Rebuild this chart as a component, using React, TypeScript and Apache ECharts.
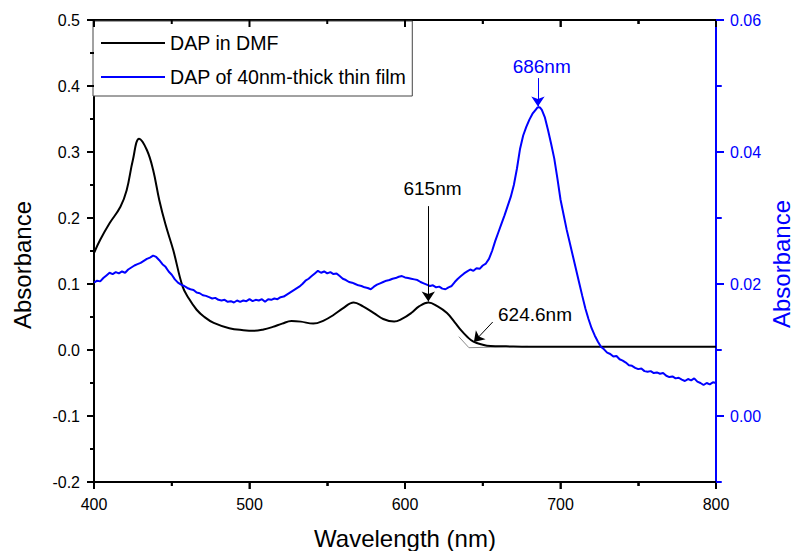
import React, { useEffect, useRef } from "react";
import * as echarts from "echarts";

// ---- Data ----
const dmfWavelength = [400,404,410,417,421,425,429,434,438,442,446,451,457,461,466,471,477,487,496,503,509,515,521,527,533,541,548,554,560,567,573,580,586,593,598,604,609,615,621,627,632,636,640,644,650,655,665,680,800];
const dmfAbsorbance = [0.147,0.167,0.192,0.217,0.242,0.288,0.320,0.303,0.273,0.227,0.190,0.151,0.096,0.078,0.061,0.050,0.041,0.033,0.030,0.029,0.031,0.035,0.040,0.044,0.043,0.040,0.045,0.053,0.063,0.072,0.066,0.056,0.047,0.043,0.047,0.056,0.066,0.072,0.066,0.056,0.042,0.030,0.020,0.0126,0.008,0.006,0.0055,0.005,0.005];

const filmWavelength = [
  400,402,404,406,408,410,412,414,416,418,
  420,422,424,426,428,430,432,434,436,438,
  440,442,444,446,448,450,452,454,456,458,
  460,462,464,466,468,470,472,474,476,478,
  480,482,484,486,488,490,492,494,496,498,
  500,502,504,506,508,510,512,514,516,518,
  520,522,524,526,528,530,532,534,536,538,
  540,542,544,546,548,550,552,554,556,558,
  560,562,564,566,568,570,572,574,576,578,
  580,582,584,586,588,590,592,594,596,598,
  600,602,604,606,608,610,612,614,616,618,
  620,622,624,626,628,630,632,634,636,638,
  640,642,644,646,648,650,652,654,656,658,
  660,662,664,666,668,670,672,674,676,678,
  680,682,684,685,686,687,688,690,692,694,
  696,698,700,702,704,706,708,710,712,714,
  716,718,720,722,724,726,728,730,732,734,
  736,738,740,742,744,746,748,750,752,754,
  756,758,760,762,764,766,768,770,772,774,
  776,778,780,782,784,786,788,790,792,794,
  796,798,800
];
const filmAbsorbance = [
  0.0202,0.0205,0.0204,0.0209,0.0213,0.0217,0.0215,0.0218,0.0216,0.0219,
  0.0217,0.0222,0.0225,0.0228,0.0230,0.0232,0.0235,0.0238,0.0240,0.0243,
  0.0241,0.0236,0.0230,0.0226,0.0219,0.0214,0.0207,0.0202,0.0199,0.0197,
  0.0194,0.0192,0.0191,0.0187,0.0186,0.0183,0.0182,0.0180,0.0178,0.0179,
  0.0176,0.0175,0.0176,0.0173,0.0174,0.0172,0.0175,0.0173,0.0175,0.0174,
  0.0177,0.0174,0.0176,0.0175,0.0177,0.0173,0.0177,0.0176,0.0178,0.0177,
  0.0180,0.0181,0.0184,0.0187,0.0190,0.0193,0.0196,0.0200,0.0205,0.0208,
  0.0212,0.0216,0.0220,0.0217,0.0219,0.0216,0.0218,0.0215,0.0216,0.0212,
  0.0208,0.0206,0.0203,0.0202,0.0200,0.0198,0.0197,0.0195,0.0194,0.0192,
  0.0196,0.0199,0.0201,0.0203,0.0205,0.0206,0.0208,0.0209,0.0211,0.0212,
  0.0210,0.0209,0.0208,0.0207,0.0206,0.0203,0.0201,0.0199,0.0197,0.0198,
  0.0195,0.0196,0.0193,0.0192,0.0195,0.0197,0.0203,0.0208,0.0212,0.0216,
  0.0219,0.0222,0.0220,0.0224,0.0223,0.0228,0.0231,0.0238,0.0250,0.0265,
  0.0278,0.0291,0.0304,0.0318,0.0332,0.0350,0.0375,0.0405,0.0425,0.0438,
  0.0449,0.0458,0.0464,0.0467,0.0468,0.0467,0.0464,0.0452,0.0433,0.0412,
  0.0390,0.0360,0.0328,0.0305,0.0282,0.0262,0.0242,0.0222,0.0202,0.0182,
  0.0163,0.0147,0.0133,0.0122,0.0113,0.0105,0.0101,0.0096,0.0094,0.0090,
  0.0091,0.0086,0.0084,0.0081,0.0077,0.0076,0.0073,0.0071,0.0072,0.0068,
  0.0067,0.0068,0.0065,0.0066,0.0064,0.0065,0.0061,0.0059,0.0060,0.0057,
  0.0058,0.0055,0.0053,0.0056,0.0054,0.0057,0.0052,0.0050,0.0047,0.0050,
  0.0048,0.0051,0.0050
];

// gray tangent / baseline construction near the absorption edge
const tangentWavelength = [634.6, 641.1, 679];
const tangentAbsorbance = [0.0202, 0.0035, 0.0055];

const seriesNames = ["DAP in DMF", "DAP of 40nm-thick thin film"];

// axis ranges and tick values
const X_MIN = 400, X_MAX = 800;
const YL_MIN = -0.2, YL_MAX = 0.5;
const YR_MIN = -0.01, YR_MAX = 0.06;
const xMajorTicks = [400, 500, 600, 700, 800];
const xMinorTicks = [450, 550, 650, 750];
const yLeftMajorTicks = [-0.2, -0.1, 0, 0.1, 0.2, 0.3, 0.4, 0.5];
const yLeftMinorTicks = [-0.15, -0.05, 0.05, 0.15, 0.25, 0.35, 0.45];
const yRightMajorTicks = [0, 0.02, 0.04, 0.06];
const yRightMinorTicks = [-0.01, 0.01, 0.03, 0.05];

const BLUE = "#0000ff";
const FONT = "'Liberation Sans', Arial, Helvetica, sans-serif";
const TW = 2;

const zip = (xs: number[], ys: number[]) => xs.map((x, i) => [x, ys[i]]);

// tick marks as small rect markers anchored at axis values, shifted by half their length
const vTicks = (values: number[], y: number, len: number, color: string) =>
  values.map((v) => ({
    name: "",
    coord: [v, y],
    symbol: "rect",
    symbolSize: [TW, len],
    symbolOffset: [0, len / 2],
    itemStyle: { color, opacity: 1 },
    label: { show: false },
  }));
const hTicks = (values: number[], x: number, len: number, dir: number, color: string) =>
  values.map((v) => ({
    name: "",
    coord: [x, v],
    symbol: "rect",
    symbolSize: [len, TW],
    symbolOffset: [(dir * len) / 2, 0],
    itemStyle: { color, opacity: 1 },
    label: { show: false },
  }));

export default function App() {
  const ref = useRef<HTMLDivElement>(null);
  useEffect(() => {
    const chart = echarts.init(ref.current!, null, { renderer: "svg" });

    const blackTickStyle = { color: "#000", width: 1.5 };
    const option: any = {
      animation: false,
      backgroundColor: "#fff",
      textStyle: { fontFamily: FONT },
      grid: { left: 94, right: 79, top: 20, bottom: 69, containLabel: false, outerBoundsMode: "none" },
      legend: {
        left: 93,
        top: 21,
        orient: "vertical",
        padding: [12, 6, 9, 8],
        itemGap: 14,
        itemWidth: 64,
        itemHeight: 2,
        icon: "rect",
        borderColor: "#444",
        borderWidth: 1,
        backgroundColor: "#fff",
        textStyle: { fontSize: 19.6, color: "#000", fontFamily: FONT },
        data: seriesNames,
      },
      xAxis: [
        {
          type: "value",
          position: "bottom",
          min: X_MIN,
          max: X_MAX,
          interval: 100,
          axisLine: { show: true, onZero: false, lineStyle: { color: "#000", width: 2 } },
          axisTick: { show: true, length: 7, lineStyle: { ...blackTickStyle } },
          minorTick: { show: true, splitNumber: 2, length: 4, lineStyle: { ...blackTickStyle } },
          axisLabel: { fontSize: 16, color: "#000", margin: 14, fontFamily: FONT },
          splitLine: { show: false },
          minorSplitLine: { show: false },
          name: "Wavelength (nm)",
          nameLocation: "middle",
          nameGap: 44,
          nameMoveOverlap: false,
          nameTextStyle: { fontSize: 24, color: "#000", fontFamily: FONT },
        },
        {
          type: "value",
          position: "top",
          min: X_MIN,
          max: X_MAX,
          interval: 100,
          axisLine: { show: true, onZero: false, lineStyle: { color: "#000", width: 2 } },
          axisTick: { show: true, inside: true, length: 7, lineStyle: { ...blackTickStyle } },
          minorTick: { show: true, splitNumber: 2, length: 4, lineStyle: { ...blackTickStyle } },
          axisLabel: { show: false },
          splitLine: { show: false },
          minorSplitLine: { show: false },
        },
      ],
      yAxis: [
        {
          type: "value",
          position: "left",
          min: YL_MIN,
          max: YL_MAX,
          interval: 0.1,
          axisLine: { show: true, onZero: false, lineStyle: { color: "#000", width: 2 } },
          axisTick: { show: true, length: 7, lineStyle: { ...blackTickStyle } },
          minorTick: { show: true, splitNumber: 2, length: 4, lineStyle: { ...blackTickStyle } },
          axisLabel: {
            fontSize: 16,
            color: "#000",
            margin: 14,
            fontFamily: FONT,
            formatter: (v: number) => v.toFixed(1),
          },
          splitLine: { show: false },
          minorSplitLine: { show: false },
          name: "Absorbance",
          nameLocation: "middle",
          nameRotate: 90,
          nameGap: 60,
          nameMoveOverlap: false,
          nameTextStyle: { fontSize: 24, color: "#000", fontFamily: FONT, padding: [0, 28, 0, 0] },
        },
        {
          type: "value",
          position: "right",
          min: YR_MIN,
          max: YR_MAX,
          interval: 0.01,
          axisLine: { show: true, onZero: false, lineStyle: { color: BLUE, width: 2 } },
          axisTick: { show: true, length: 6, lineStyle: { color: BLUE, width: 1.5 } },
          axisLabel: {
            fontSize: 16,
            color: BLUE,
            margin: 14,
            fontFamily: FONT,
            formatter: (v: number) => (Math.round(v * 100) % 2 === 0 ? v.toFixed(2) : ""),
          },
          splitLine: { show: false },
          name: "Absorbance",
          nameLocation: "middle",
          nameRotate: 90,
          nameGap: 53,
          nameMoveOverlap: false,
          nameTextStyle: { fontSize: 24, color: BLUE, fontFamily: FONT, padding: [0, 26, 0, 0] },
        },
      ],
      series: [
        {
          name: "tangent",
          type: "line",
          xAxisIndex: 0,
          yAxisIndex: 0,
          data: zip(tangentWavelength, tangentAbsorbance),
          symbol: "none",
          lineStyle: { color: "#8a8a8a", width: 1 },
          silent: true,
          z: 1,
        },
        {
          name: seriesNames[0],
          type: "line",
          xAxisIndex: 0,
          yAxisIndex: 0,
          data: zip(dmfWavelength, dmfAbsorbance),
          symbol: "none",
          smooth: 0.4,
          color: "#000",
          lineStyle: { color: "#000", width: 2 },
          z: 2,
          markLine: {
            silent: true,
            symbol: ["none", "arrow"],
            symbolSize: 10,
            label: { show: false },
            lineStyle: { color: "#000", width: 1, type: "solid" },
            data: [
              [{ coord: [615, 0.218] }, { coord: [615, 0.0735] }],
              [{ coord: [656.4, 0.0424] }, { coord: [644.3, 0.0121] }],
            ],
          },
          markPoint: {
            silent: true,
            symbol: "circle",
            symbolSize: 1,
            itemStyle: { color: "rgba(0,0,0,0)" },
            label: { show: true, position: "inside", color: "#000", fontSize: 19, fontFamily: FONT, formatter: "{b}" },
            data: [
              { name: "615nm", coord: [617.7, 0.244] },
              { name: "624.6nm", coord: [683.6, 0.0545] },
              // tick marks through the same marker mechanism
              ...vTicks(xMajorTicks, YL_MIN, 7, "#000"),
              ...vTicks(xMinorTicks, YL_MIN, 4, "#000"),
              ...vTicks(xMajorTicks, YL_MAX, 7, "#000"),
              ...vTicks(xMinorTicks, YL_MAX, 4, "#000"),
              ...hTicks(yLeftMajorTicks, X_MIN, 7, -1, "#000"),
              ...hTicks(yLeftMinorTicks, X_MIN, 4, -1, "#000"),
            ],
          },
        },
        {
          name: seriesNames[1],
          type: "line",
          xAxisIndex: 0,
          yAxisIndex: 1,
          data: zip(filmWavelength, filmAbsorbance),
          symbol: "none",
          color: BLUE,
          lineStyle: { color: BLUE, width: 2 },
          z: 3,
          markLine: {
            silent: true,
            symbol: ["none", "arrow"],
            symbolSize: 10,
            label: { show: false },
            lineStyle: { color: BLUE, width: 1, type: "solid" },
            data: [[{ coord: [685.5, 0.0512] }, { coord: [685.5, 0.0469] }]],
          },
          markPoint: {
            silent: true,
            symbol: "circle",
            symbolSize: 1,
            itemStyle: { color: "rgba(0,0,0,0)" },
            label: { show: true, position: "inside", color: BLUE, fontSize: 19, fontFamily: FONT, formatter: "{b}" },
            data: [
              { name: "686nm", coord: [687.9, 0.05295] },
              ...hTicks(yRightMajorTicks, X_MAX, 8, 1, BLUE),
              ...hTicks(yRightMinorTicks, X_MAX, 5, 1, BLUE),
            ],
          },
        },
      ],
    };
    chart.setOption(option);
    return () => chart.dispose();
  }, []);
  return (
    <div
      ref={ref}
      style={{ position: "fixed", left: 0, top: 0, width: 795, height: 551, background: "#fff" }}
    />
  );
}
